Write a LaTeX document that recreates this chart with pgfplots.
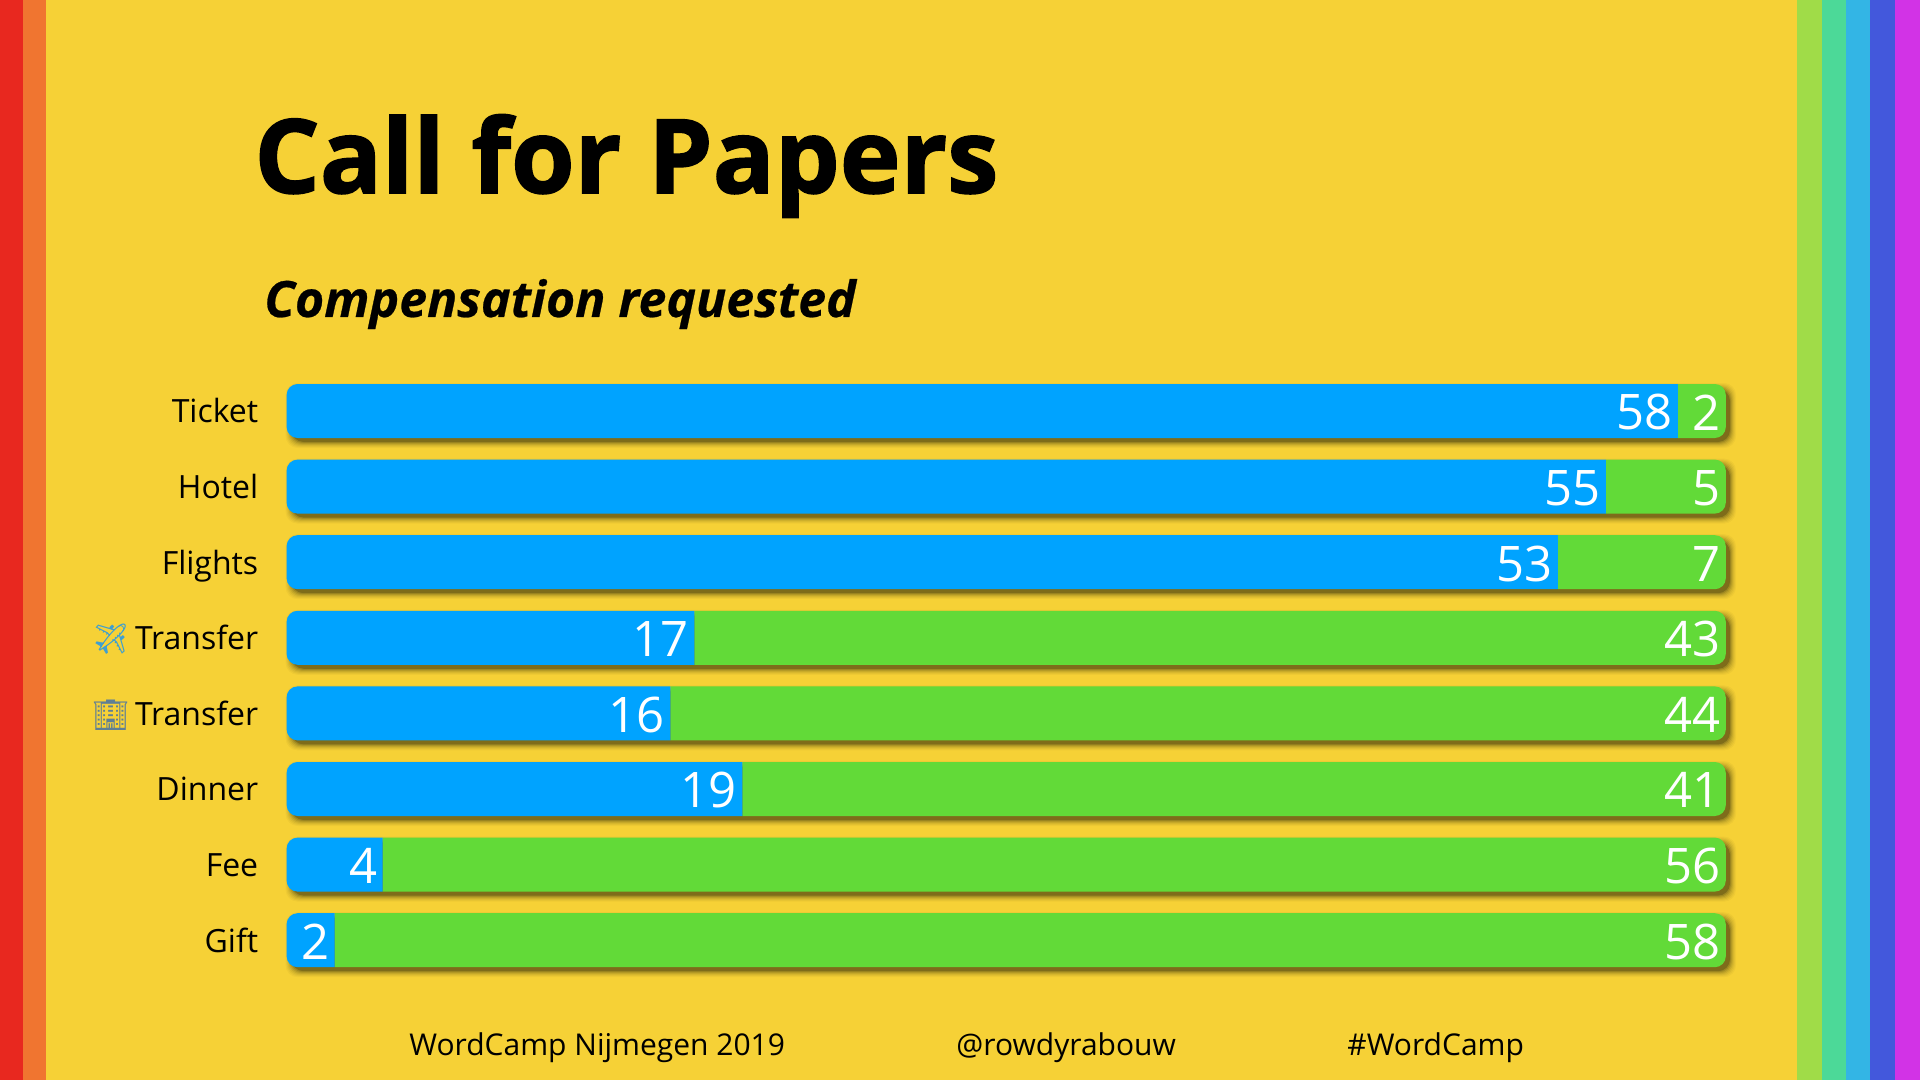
\documentclass[border=0pt]{standalone}
\usepackage{pgfplots}
\pgfplotsset{compat=1.18}
\usepackage{fontspec}
\setmainfont{Open Sans}
\newfontfamily\emojifont{Noto Emoji}
\newfontfamily\titlefont[FakeBold=1.5]{Open Sans Bold}
\newfontfamily\subfont[FakeBold=0.5]{Open Sans Bold Italic}
\definecolor{bg}{HTML}{F6D136}
\definecolor{barblue}{HTML}{00A3FF}
\definecolor{bargreen}{HTML}{62DA38}
\definecolor{s1}{HTML}{E8281F}
\definecolor{s2}{HTML}{F07530}
\definecolor{s3}{HTML}{A0DC48}
\definecolor{s4}{HTML}{4CD998}
\definecolor{s5}{HTML}{33B5E5}
\definecolor{s6}{HTML}{4358DC}
\definecolor{s7}{HTML}{D233E6}
\definecolor{planeblue}{HTML}{3F9FD0}
\definecolor{towergrey}{HTML}{5F7F95}
\pgfplotstableread{
pos blue green total
0 58 2 60
1 55 5 60
2 53 7 60
3 17 43 60
4 16 44 60
5 19 41 60
6 4 56 60
7 2 58 60
}\datatable
\pgfplotsset{geom/.style={
  at={(143.3pt,-186.6pt)}, anchor=north west, scale only axis,
  width=719.6pt, height=302.4pt,
  xmin=0, xmax=60, ymin=-0.5, ymax=7.5, y dir=reverse,
  axis line style={draw=none}, tick style={draw=none}},
  vallabel/.style={only marks, mark=none, nodes near coords,
    nodes near coords align={anchor=east},
    every node near coord/.append style={inner sep=0pt, xshift=-2.5pt, yshift=-0.7pt,
      text=white, font=\fontsize{24.5}{24.5}\selectfont}}}
\begin{document}
\begin{tikzpicture}
\begin{scope}[x=0.5pt,y=-0.5pt]
\fill[bg] (0,0) rectangle (1920,1080);
\useasboundingbox (0,0) rectangle (1920,1080);
\fill[s1] (0,0) rectangle (23,1080);
\fill[s2] (23,0) rectangle (46,1080);
\fill[s3] (1797,0) rectangle (1822,1080);
\fill[s4] (1822,0) rectangle (1846,1080);
\fill[s5] (1846,0) rectangle (1870,1080);
\fill[s6] (1870,0) rectangle (1895,1080);
\fill[s7] (1895,0) rectangle (1920,1080);
% soft shadows under the bars
\foreach \k/\op in {6/0.03,5/0.04,4/0.05,3/0.07,2/0.09,1/0.12,0/0.20}{
  \foreach \c in {411,486.6,562.2,637.8,713.4,789,864.6,940.2}{
    \fill[black,opacity=\op,rounded corners=6pt]
      ({286.6+5-\k},{\c-27+5-\k}) rectangle ({1726+4+\k},{\c+27+4+\k});
  }
}
\clip[rounded corners=5.5pt]
  \foreach \c in {411,486.6,562.2,637.8,713.4,789,864.6,940.2}{
    (286.6,{\c-27}) rectangle (1725.8,{\c+27})
  };
\begin{axis}[geom, xtick=\empty, ytick=\empty, xbar stacked, bar width=27pt]
\addplot[draw=none, fill=barblue] table[x=blue, y=pos] {\datatable};
\addplot[draw=none, fill=bargreen] table[x=green, y=pos] {\datatable};
\end{axis}
\end{scope}
\begin{axis}[geom, xtick=\empty, ytick={0,...,7},
  /pgf/number format/assume math mode=true,
  yticklabels={Ticket,Hotel,Flights,
    {{\emojifont\fontsize{15}{15}\selectfont\textcolor{planeblue}{✈}}\kern-1.5pt{} Transfer},
    {{\emojifont\fontsize{15}{15}\selectfont\textcolor{towergrey}{🏢}}\kern-1.5pt{} Transfer},
    Dinner,Fee,Gift},
  yticklabel style={font=\fontsize{16}{16}\selectfont, text=black, inner sep=0pt,
    xshift=-14pt, yshift=-0.6pt, text height=14pt, text depth=3.3pt}]
\addplot[vallabel, point meta=\thisrow{blue}] table[x=blue, y=pos] {\datatable};
\addplot[vallabel, point meta=\thisrow{green}] table[x=total, y=pos] {\datatable};
\end{axis}
\begin{scope}[x=0.5pt,y=-0.5pt]
\node[anchor=base west, inner sep=0pt, font=\fontsize{51.4}{52}\titlefont] at (254,193) {Call for Papers};
\node[anchor=base west, inner sep=0pt, font=\fontsize{25}{25}\subfont] at (264,317) {Compensation requested};
\node[anchor=base west, inner sep=0pt, font=\fontsize{15}{15}\selectfont] at (409,1055) {WordCamp Nijmegen 2019};
\node[anchor=base west, inner sep=0pt, font=\fontsize{15}{15}\selectfont] at (956,1055) {@rowdyrabouw};
\node[anchor=base west, inner sep=0pt, font=\fontsize{15}{15}\selectfont] at (1347,1055) {\#WordCamp};
\end{scope}
\end{tikzpicture}
\end{document}
